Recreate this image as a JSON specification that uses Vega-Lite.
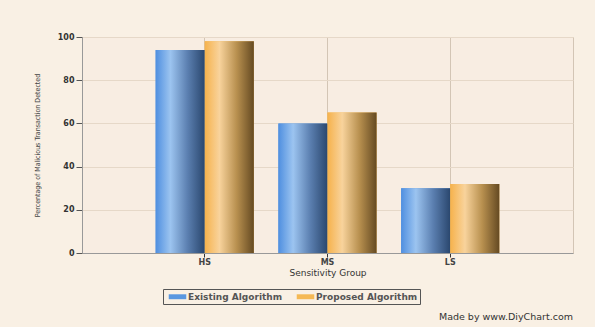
{
  "$schema": "https://vega.github.io/schema/vega-lite/v6.json",
  "autosize": {"type": "none"},
  "width": 491,
  "height": 216,
  "padding": {"left": 82, "top": 37, "right": 22, "bottom": 74},
  "background": "#f9f0e4",
  "title": {
    "text": "Made by www.DiyChart.com",
    "orient": "bottom",
    "anchor": "end",
    "font": "DejaVu Sans",
    "fontSize": 9.5,
    "fontWeight": "normal",
    "color": "#333333",
    "offset": 7
  },
  "data": {
    "values": [
      {"group": "HS", "series": "Existing Algorithm", "value": 94},
      {"group": "HS", "series": "Proposed Algorithm", "value": 98},
      {"group": "MS", "series": "Existing Algorithm", "value": 60},
      {"group": "MS", "series": "Proposed Algorithm", "value": 65},
      {"group": "LS", "series": "Existing Algorithm", "value": 30},
      {"group": "LS", "series": "Proposed Algorithm", "value": 32}
    ]
  },
  "encoding": {
    "x": {
      "field": "group",
      "type": "nominal",
      "sort": ["HS", "MS", "LS"],
      "scale": {"paddingInner": 0.2, "paddingOuter": 0.6},
      "axis": {
        "title": "Sensitivity Group",
        "labelAngle": 0,
        "bandPosition": 0.5,
        "grid": true,
        "gridColor": "#d3c5b5",
        "ticks": true,
        "tickSize": 4,
        "tickColor": "#333333",
        "domainColor": "#999999",
        "labelFont": "DejaVu Sans",
        "labelFontSize": 8,
        "labelFontWeight": "bold",
        "labelColor": "#444444",
        "labelPadding": 1,
        "titleFont": "DejaVu Sans",
        "titleFontSize": 9,
        "titleFontWeight": "normal",
        "titleColor": "#333333",
        "titlePadding": 2
      }
    },
    "xOffset": {
      "field": "series",
      "type": "nominal",
      "scale": {"domain": ["Existing Algorithm", "Proposed Algorithm"], "paddingInner": 0, "paddingOuter": 0}
    },
    "y": {
      "field": "value",
      "type": "quantitative",
      "scale": {"domain": [0, 100]},
      "axis": {
        "title": "Percentage of Malicious Transaction Detected",
        "values": [0, 20, 40, 60, 80, 100],
        "gridColor": "#e6d8c8",
        "tickColor": "#555555",
        "tickSize": 6,
        "domainColor": "#999999",
        "labelFont": "DejaVu Sans",
        "labelFontSize": 8,
        "labelFontWeight": "bold",
        "labelColor": "#333333",
        "labelPadding": 2,
        "titleFont": "DejaVu Sans Condensed",
        "titleFontSize": 7,
        "titleFontWeight": "normal",
        "titleColor": "#444444",
        "titlePadding": 17
      }
    }
  },
  "layer": [
    {
      "mark": {"type": "bar"},
      "encoding": {
        "color": {
          "field": "series",
          "type": "nominal",
          "scale": {"domain": ["Existing Algorithm", "Proposed Algorithm"], "range": ["#5a97e0", "#f5b955"]},
          "legend": {
            "title": null,
            "orient": "none",
            "legendX": 81,
            "legendY": 252,
            "direction": "horizontal",
            "strokeColor": "#555555",
            "padding": 2,
            "columnPadding": 10,
            "symbolType": "M-1.6,-0.45H1.6V0.45H-1.6Z",
            "symbolSize": 120,
            "symbolOffset": 7,
            "symbolStrokeWidth": 0,
            "labelOffset": 5,
            "labelFont": "DejaVu Sans",
            "labelFontSize": 9,
            "labelFontWeight": "bold",
            "labelColor": "#555555"
          }
        }
      }
    },
    {
      "transform": [{"filter": "datum.series === 'Existing Algorithm'"}],
      "mark": {
        "type": "bar",
        "fill": {
          "gradient": "linear", "x1": 0, "y1": 0, "x2": 1, "y2": 0,
          "stops": [
            {"offset": 0, "color": "#4f8fe0"},
            {"offset": 0.3, "color": "#9cc4f0"},
            {"offset": 0.65, "color": "#5b7fb0"},
            {"offset": 1, "color": "#2a476e"}
          ]
        }
      }
    },
    {
      "transform": [{"filter": "datum.series === 'Proposed Algorithm'"}],
      "mark": {
        "type": "bar",
        "fill": {
          "gradient": "linear", "x1": 0, "y1": 0, "x2": 1, "y2": 0,
          "stops": [
            {"offset": 0, "color": "#f6b24c"},
            {"offset": 0.3, "color": "#f8d39c"},
            {"offset": 0.65, "color": "#b8904f"},
            {"offset": 1, "color": "#654a22"}
          ]
        }
      }
    }
  ],
  "config": {
    "view": {"fill": "#f8ede2", "stroke": "#d3c5b5"}
  }
}
